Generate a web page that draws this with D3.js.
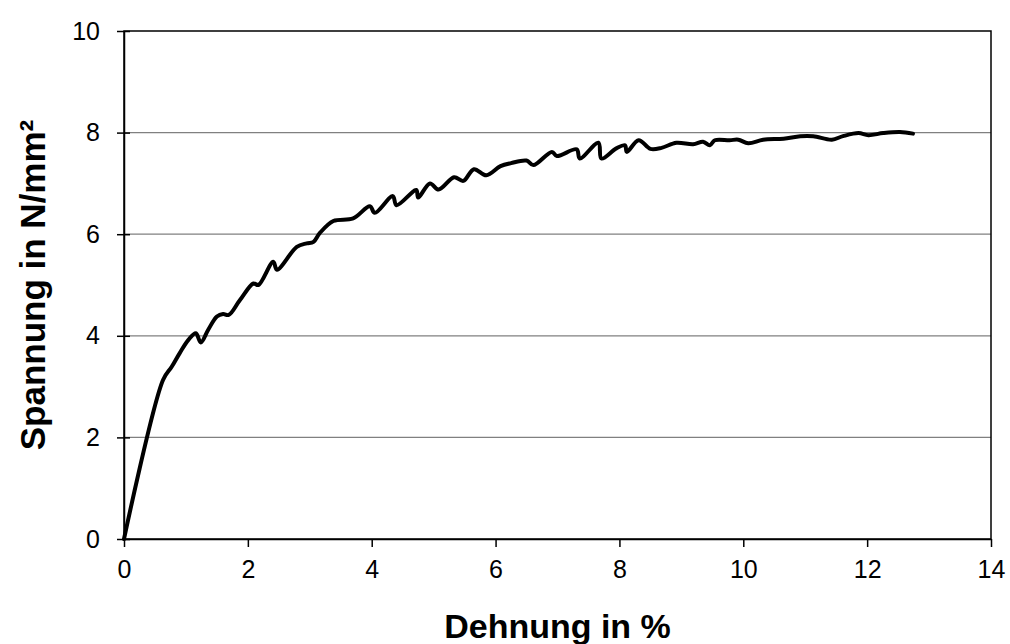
<!DOCTYPE html>
<html>
<head>
<meta charset="utf-8">
<script src="https://cdn.jsdelivr.net/npm/d3@7"></script>
<style>
  body { margin: 0; background: #fff; }
  svg text { font-family: "Liberation Sans", Arial, sans-serif; }
</style>
</head>
<body>
<div id="graph"></div>
<script>
// DONNEES DU GRAPHE
let dehnung = [0, 0.63, 0.77, 0.90, 1.04, 1.16, 1.24, 1.36, 1.50, 1.60, 1.69, 1.87, 2.09, 2.17, 2.41, 2.47,
    2.79, 2.95, 3.06, 3.16, 3.38, 3.70, 3.97, 4.05, 4.34, 4.40, 4.72, 4.75, 4.94, 5.08, 5.33, 5.48,
    5.65, 5.85, 6.08, 6.25, 6.50, 6.61, 6.91, 6.99, 7.31, 7.36, 7.66, 7.71, 7.95, 8.09, 8.12, 8.31,
    8.50, 8.68, 8.92, 9.19, 9.35, 9.46, 9.54, 9.78, 9.92, 10.08, 10.32, 10.65, 10.92, 11.13, 11.43,
    11.61, 11.86, 12.02, 12.26, 12.53, 12.74];
let spannung = [0, 3.13, 3.39, 3.66, 3.92, 4.05, 3.87, 4.12, 4.38, 4.43, 4.41, 4.70, 5.03, 5.00, 5.46, 5.30,
    5.75, 5.82, 5.85, 6.02, 6.26, 6.31, 6.55, 6.42, 6.75, 6.57, 6.87, 6.72, 7.00, 6.88, 7.12, 7.05,
    7.28, 7.16, 7.34, 7.40, 7.45, 7.36, 7.62, 7.54, 7.67, 7.49, 7.80, 7.49, 7.69, 7.75, 7.62, 7.85,
    7.68, 7.70, 7.80, 7.77, 7.82, 7.75, 7.85, 7.85, 7.86, 7.79, 7.86, 7.88, 7.93, 7.93, 7.86,
    7.93, 7.99, 7.95, 7.99, 8.01, 7.98];
let xTicks = [0, 2, 4, 6, 8, 10, 12, 14];
let yTicks = [0, 2, 4, 6, 8, 10];
let xTitle = 'Dehnung in %';
let yTitle = 'Spannung in N/mm²';

// dimensions
let width = 1010;
let height = 644;
let margin = {left: 124, right: 19, top: 31, bottom: 105};

let x = d3.scaleLinear().domain([0, 14]).range([margin.left, width - margin.right]);
let y = d3.scaleLinear().domain([0, 10]).range([height - margin.bottom, margin.top]);

let svg = d3.select('#graph').append('svg')
    .attr('width', width)
    .attr('height', height);

// lignes de grille
svg.append('g')
    .selectAll('line')
    .data(yTicks.filter(d => d > 0 && d < 10))
    .enter().append('line')
    .attr('x1', x(0))
    .attr('x2', x(14))
    .attr('y1', d => y(d))
    .attr('y2', d => y(d))
    .attr('stroke', '#808080')
    .attr('stroke-width', 1.2);

// cadre
svg.append('rect')
    .attr('x', x(0))
    .attr('y', y(10))
    .attr('width', x(14) - x(0))
    .attr('height', y(0) - y(10))
    .attr('fill', 'none')
    .attr('stroke', '#000')
    .attr('stroke-width', 1.5);

// axes
let xAxis = svg.append('g')
    .attr('transform', 'translate(0,' + y(0) + ')')
    .call(d3.axisBottom(x).tickValues(xTicks).tickSize(8).tickPadding(13).tickSizeOuter(0));

let yAxis = svg.append('g')
    .attr('transform', 'translate(' + x(0) + ',0)')
    .call(d3.axisLeft(y).tickValues(yTicks).tickSize(7).tickPadding(17).tickSizeOuter(0));

[xAxis, yAxis].forEach(function(a) {
    a.select('.domain').attr('stroke', '#000').attr('stroke-width', 1.5);
    a.selectAll('.tick line').attr('stroke', '#000').attr('stroke-width', 1.5);
    a.selectAll('.tick text')
        .attr('fill', '#000')
        .style('font-size', '25px');
});

// petits traits vers l'interieur sur l'axe y
yAxis.selectAll('.tick line').attr('x2', 6).attr('x1', -7);

// courbe
let line = d3.line()
    .x((d, i) => x(dehnung[i]))
    .y((d, i) => y(spannung[i]))
    .curve(d3.curveCatmullRom.alpha(0.5));

svg.append('path')
    .datum(dehnung)
    .attr('fill', 'none')
    .attr('stroke', '#000')
    .attr('stroke-width', 4)
    .attr('stroke-linejoin', 'round')
    .attr('stroke-linecap', 'round')
    .attr('d', line);

// titres
svg.append('text')
    .attr('x', (x(0) + x(14)) / 2)
    .attr('y', 638)
    .attr('text-anchor', 'middle')
    .style('font-size', '34px')
    .style('font-weight', 'bold')
    .text(xTitle);

svg.append('text')
    .attr('transform', 'translate(45,' + (y(0) + y(10)) / 2 + ') rotate(-90)')
    .attr('text-anchor', 'middle')
    .style('font-size', '35px')
    .style('font-weight', 'bold')
    .text(yTitle);
</script>
</body>
</html>
